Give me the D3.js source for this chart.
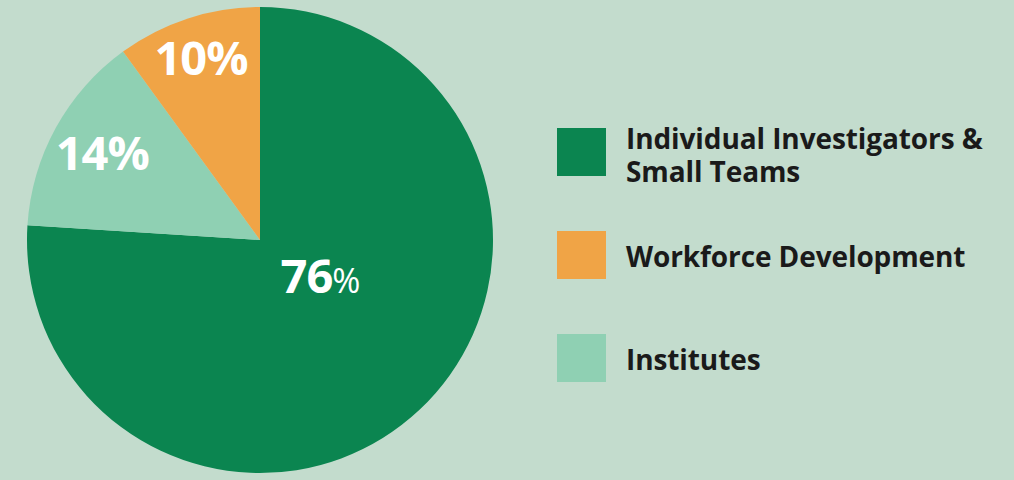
<!DOCTYPE html>
<html lang="en">
<head>
    <meta charset="UTF-8">
    <title>Funding split</title>
    <style>
        body { margin: 0; background: #c3dccd; }
        svg { display: block; }
    </style>
    <script src="https://d3js.org/d3.v7.min.js"></script>
</head>
<body>
<script>
// slice data, in clockwise order from 12 o'clock
const categories = ["Individual Investigators & Small Teams", "Institutes", "Workforce Development"];
const shares = [76, 14, 10];
const sliceColors = ["#0b8550", "#8fd0b3", "#f0a446"];

// legend order as in the picture
const legendOrder = ["Individual Investigators & Small Teams", "Workforce Development", "Institutes"];
const legendLines = [["Individual Investigators &", "Small Teams"], ["Workforce Development"], ["Institutes"]];

const W = 1014, H = 480;
const cx = 260, cy = 240, R = 233;

var svg = d3.select("body").append("svg")
    .attr("width", W)
    .attr("height", H);

svg.append("rect").attr("width", W).attr("height", H).attr("fill", "#c3dccd");

const color = d3.scaleOrdinal().domain(categories).range(sliceColors);

const pie = d3.pie().sort(null).value(d => d.v);
const slices = pie(categories.map((c, i) => ({ c: c, v: shares[i] })));

const arc = d3.arc().innerRadius(0).outerRadius(R);

var g = svg.append("g").attr("transform", "translate(" + cx + "," + cy + ")");

g.selectAll("path.slice")
    .data(slices)
    .enter()
    .append("path")
    .attr("class", "slice")
    .attr("d", arc)
    .attr("fill", d => color(d.data.c));

// label placement per slice: radius, and optional angle (deg) override for the big slice
const labelPlace = [{ r: 70, angle: 121 }, { r: 180 }, { r: 191 }];

g.selectAll("text.pct")
    .data(slices)
    .enter()
    .append("text")
    .attr("class", "pct")
    .attr("transform", function (d, i) {
        var p = labelPlace[i];
        var a = p.angle !== undefined ? p.angle * Math.PI / 180 : (d.startAngle + d.endAngle) / 2;
        return "translate(" + (Math.sin(a) * p.r) + "," + (-Math.cos(a) * p.r + 17) + ")";
    })
    .attr("text-anchor", "middle")
    .attr("fill", "#ffffff")
    .style("font-family", "'Open Sans', sans-serif")
    .style("font-weight", 700)
    .style("font-size", "47px")
    .style("letter-spacing", "-1px")
    .each(function (d, i) {
        var t = d3.select(this);
        if (i === 0) {
            t.append("tspan").text(d.data.v);
            t.append("tspan").text("%").style("font-weight", 400).style("font-size", "34px");
        } else {
            t.text(d.data.v + "%");
        }
    });

// legend
var legend = svg.append("g").attr("transform", "translate(557,128)");
var items = legend.selectAll("g.item")
    .data(legendOrder)
    .enter()
    .append("g")
    .attr("class", "item")
    .attr("transform", (d, i) => "translate(0," + (i * 103) + ")");

items.append("rect")
    .attr("width", 49)
    .attr("height", 48)
    .attr("fill", d => color(d));

items.each(function (d, i) {
    var lines = legendLines[i];
    var t = d3.select(this).append("text")
        .attr("x", 69)
        .attr("y", lines.length > 1 ? 21 : 36)
        .attr("fill", "#1a1a1a")
        .style("font-family", "'Open Sans', sans-serif")
        .style("font-weight", 700)
        .style("font-size", "28px")
        .style("letter-spacing", "-0.1px");
    lines.forEach(function (l, j) {
        t.append("tspan").attr("x", 69).attr("dy", j === 0 ? 0 : 33).text(l);
    });
});
</script>
</body>
</html>
